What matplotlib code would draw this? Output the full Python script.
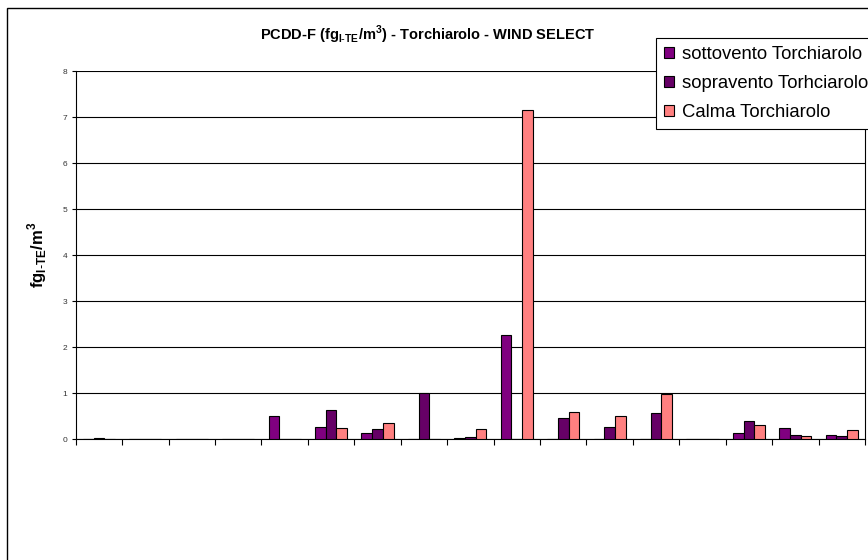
import numpy as np
import matplotlib
matplotlib.use('Agg')
import matplotlib.pyplot as plt
from matplotlib.patches import Patch, Rectangle

plt.rcParams['font.family'] = ['Liberation Sans', 'DejaVu Sans']

# ---- data ----
n_cat = 17
sottovento = [0, 0, 0, 0, 0.50, 0.27, 0.14, 0, 0.02, 2.27, 0, 0, 0, 0, 0.14, 0.24, 0.08]
sopravento = [0.03, 0, 0, 0, 0, 0.63, 0.21, 1.00, 0.05, 0, 0.45, 0.27, 0.56, 0, 0.39, 0.08, 0.06]
calma = [0, 0, 0, 0, 0, 0.24, 0.34, 0, 0.21, 7.15, 0.58, 0.50, 0.98, 0, 0.30, 0.06, 0.19]

series = [
    ('sottovento Torchiarolo', sottovento, '#800080'),
    ('sopravento Torhciarolo', sopravento, '#660066'),
    ('Calma Torchiarolo', calma, '#FF8080'),
]

# ---- figure ----
fig = plt.figure(figsize=(8.68, 5.6), dpi=100)
ax = fig.add_axes([75.7 / 868, 1 - 439 / 560, (865 - 75.7) / 868, (439 - 71) / 560])

# outer chart border
fig.add_artist(Rectangle((7 / 868, -0.1), 1.2, 1 - 8 / 560 + 0.1,
                         transform=fig.transFigure, fill=False,
                         edgecolor='black', linewidth=1.0))

x = np.arange(n_cat)
w = 0.23
for i, (name, vals, col) in enumerate(series):
    ax.bar(x + (i - 1) * w, vals, width=w, color=col, edgecolor='black',
           linewidth=0.8, zorder=3, label=name)

ax.set_xlim(-0.5, n_cat - 0.5)
ax.set_ylim(0, 8)
ax.set_yticks(range(0, 9))
ax.set_xticks(np.arange(-0.5, n_cat, 1.0))
ax.set_xticklabels([])
ax.tick_params(axis='x', direction='out', length=4, width=0.8)
ax.tick_params(axis='y', direction='out', length=3, width=0.8,
               labelsize=6, labelcolor='#333333', pad=3)
ax.grid(axis='y', color='black', linewidth=0.8, zorder=0)
for s in ['left', 'bottom', 'right']:
    ax.spines[s].set_linewidth(0.8)
ax.spines['top'].set_visible(False)

ax.set_ylabel(r'fg$_{\mathregular{I\text{-}TE}}$/m$^{\mathregular{3}}$',
              fontsize=12, fontweight='bold', labelpad=10)

fig.text(428 / 868, 1 - 35 / 560,
         r'PCDD-F (fg$_{\mathregular{I\text{-}TE}}$/m$^{\mathregular{3}}$) - Torchiarolo - WIND SELECT',
         ha='center', va='center', fontsize=10.5, fontweight='bold')

handles = [Patch(facecolor=c, edgecolor='black', linewidth=0.8, label=n) for n, _, c in series]
leg = fig.legend(handles=handles, loc='upper left',
                 bbox_to_anchor=(656 / 868, 1 - 37.7 / 560),
                 fontsize=13.3, frameon=True, fancybox=False, framealpha=1,
                 edgecolor='black', handlelength=0.55, handleheight=0.55,
                 handletextpad=0.4, labelspacing=0.65, borderpad=0.45,
                 borderaxespad=0)
leg.get_frame().set_linewidth(0.8)

fig.savefig('out.png', dpi=100)
